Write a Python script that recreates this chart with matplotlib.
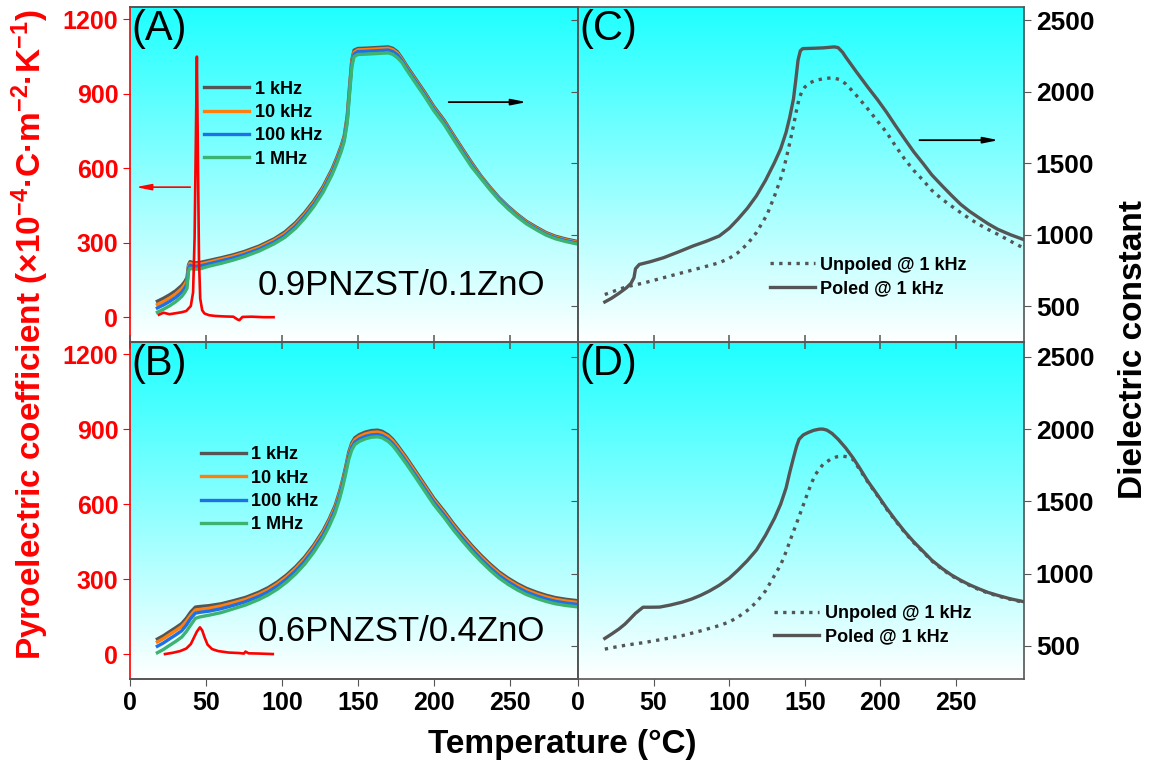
import numpy as np
import matplotlib
matplotlib.use('Agg')
import matplotlib.pyplot as plt
from matplotlib.colors import LinearSegmentedColormap

plt.rcParams['font.family'] = ['Liberation Sans', 'DejaVu Sans']
plt.rcParams['mathtext.default'] = 'regular'

freq_labels = ['1 kHz', '10 kHz', '100 kHz', '1 MHz']
freq_colors = ['#555555', '#ff7f0e', '#1f6fe5', '#3cb371']
pole_labels = ['Unpoled @ 1 kHz', 'Poled @ 1 kHz']
x_ticks = [0, 50, 100, 150, 200, 250]
pyro_ticks = [0, 300, 600, 900, 1200]
eps_ticks = [500, 1000, 1500, 2000, 2500]

# (A) 0.9PNZST/0.1ZnO, dielectric constant at 4 frequencies
T_A = [18, 22, 26, 30, 34, 36, 37.5, 38.5, 39.5, 42, 46, 52, 60, 68, 75, 85, 95, 102, 109, 115,
       121, 127, 133, 136, 139, 141, 143, 144.5, 146, 147.5, 150, 155, 160, 165, 170, 173, 176,
       179, 182, 188, 194, 200, 207, 213, 219, 225, 231, 237, 243, 249, 255, 261, 268, 274, 280,
       287, 295]
eps_A_1k = [535, 556, 580, 608, 645, 672, 700, 790, 812, 803, 806, 820, 839, 860, 882, 921, 972,
            1020, 1085, 1155, 1237, 1335, 1459, 1535, 1620, 1690, 1830, 2030, 2220, 2290, 2302,
            2304, 2307, 2310, 2313, 2303, 2280, 2235, 2184, 2090, 1997, 1897, 1798, 1697, 1599,
            1503, 1412, 1333, 1260, 1198, 1143, 1094, 1050, 1015, 990, 970, 952]
eps_A_10k = [512, 533, 557, 586, 623, 651, 680, 778, 800, 791, 794, 809, 829, 850, 872, 911, 962,
             1008, 1073, 1143, 1225, 1323, 1447, 1523, 1608, 1678, 1815, 2015, 2205, 2275, 2292,
             2294, 2297, 2300, 2303, 2293, 2270, 2226, 2175, 2081, 1988, 1888, 1789, 1688, 1590,
             1494, 1406, 1327, 1254, 1192, 1137, 1088, 1044, 1009, 984, 964, 946]
eps_A_100k = [488, 509, 533, 561, 598, 626, 655, 765, 787, 778, 781, 797, 817, 838, 860, 899, 950,
              995, 1060, 1130, 1212, 1310, 1434, 1510, 1595, 1665, 1800, 2000, 2190, 2262, 2280,
              2282, 2285, 2288, 2291, 2281, 2258, 2217, 2166, 2072, 1979, 1879, 1780, 1679, 1581,
              1485, 1400, 1321, 1248, 1186, 1131, 1082, 1038, 1003, 978, 958, 940]
eps_A_1M = [458, 479, 503, 531, 568, 597, 625, 745, 767, 758, 761, 780, 800, 823, 846, 886, 937,
            982, 1045, 1115, 1197, 1295, 1419, 1495, 1580, 1650, 1780, 1980, 2170, 2245, 2260,
            2262, 2265, 2268, 2271, 2261, 2238, 2205, 2154, 2060, 1967, 1867, 1768, 1667, 1569,
            1473, 1394, 1315, 1242, 1180, 1125, 1076, 1032, 997, 972, 952, 934]
T_pyro_A = [19, 22, 26, 30, 34, 37, 40, 41.5, 42.5, 43.3, 44.0, 44.7, 45.4, 46.2, 47.5, 49, 52,
            56, 62, 68, 71, 72, 74, 80, 88, 94.5]
pyro_A = [10, 18, 12, 16, 20, 25, 45, 100, 320, 700, 1050, 640, 230, 75, 28, 15, 8, 5, 3, 2,
          -10, -12, 1, 2, 0, 0]

# (B) 0.6PNZST/0.4ZnO
T_B = [18, 22, 26, 30, 34, 37, 40, 43, 46, 52, 60, 68, 76, 85, 91, 97, 103, 109, 115, 121, 127,
       131, 135, 138, 140, 142, 144, 146, 148, 151, 155, 159, 163, 166, 170, 173, 176, 182, 188,
       194, 200, 207, 213, 219, 225, 231, 237, 243, 249, 255, 261, 268, 274, 280, 287, 295]
eps_B_1k = [547, 570, 598, 625, 654, 690, 735, 768, 772, 778, 791, 812, 835, 872, 903, 942, 990,
            1047, 1115, 1198, 1295, 1375, 1470, 1570, 1650, 1740, 1840, 1905, 1940, 1962, 1980,
            1990, 1993, 1985, 1960, 1930, 1890, 1803, 1710, 1616, 1522, 1430, 1345, 1268, 1195,
            1128, 1067, 1012, 968, 930, 898, 870, 850, 834, 822, 812]
eps_B_10k = [527, 550, 578, 605, 634, 669, 712, 748, 752, 760, 776, 798, 821, 858, 889, 929, 977,
             1034, 1102, 1185, 1282, 1362, 1457, 1556, 1636, 1725, 1825, 1890, 1926, 1949, 1967,
             1977, 1980, 1972, 1948, 1918, 1878, 1791, 1698, 1604, 1510, 1418, 1333, 1256, 1183,
             1116, 1055, 1000, 956, 918, 886, 858, 838, 822, 810, 800]
eps_B_100k = [497, 520, 548, 575, 604, 642, 690, 726, 732, 740, 757, 780, 805, 843, 874, 913, 961,
              1018, 1086, 1169, 1266, 1346, 1441, 1540, 1620, 1710, 1810, 1875, 1910, 1932, 1950,
              1960, 1963, 1955, 1930, 1900, 1860, 1773, 1681, 1588, 1495, 1403, 1318, 1241, 1168,
              1101, 1040, 986, 942, 904, 872, 844, 824, 808, 796, 786]
eps_B_1M = [452, 475, 503, 530, 560, 598, 645, 690, 700, 712, 730, 756, 782, 821, 853, 892, 940,
            997, 1065, 1148, 1245, 1325, 1420, 1519, 1599, 1690, 1790, 1856, 1893, 1915, 1933,
            1944, 1947, 1940, 1915, 1885, 1845, 1758, 1666, 1572, 1478, 1386, 1301, 1224, 1151,
            1085, 1024, 969, 925, 887, 855, 827, 807, 791, 779, 769]
T_pyro_B = [23, 28, 33, 37, 40, 42, 44, 46, 47.5, 49, 51, 54, 58, 65, 72, 75, 76, 78, 85, 94]
pyro_B = [0, 5, 12, 22, 40, 65, 90, 107, 95, 68, 38, 20, 12, 6, 4, 2, 10, 3, 2, 0]

# (C) poled / unpoled at 1 kHz, 0.9PNZST/0.1ZnO
T_C_poled = [17.7, 22, 27, 32, 35, 37, 38, 40.5, 48, 56.5, 66, 76, 85, 93.4, 100, 105.7, 112, 118,
             124, 130, 134, 137.6, 140, 142.5, 144, 145.5, 147, 148.6, 155, 162, 169.5, 172, 175,
             177, 184, 191.6, 198, 204, 210, 216, 222, 228.5, 234, 240.8, 247, 253, 259, 265,
             271, 277.6, 286, 295]
eps_C_poled = [530, 555, 590, 629, 660, 700, 762, 792, 812, 839, 878, 921, 955, 991, 1045, 1108,
               1185, 1272, 1380, 1506, 1600, 1716, 1820, 1950, 2080, 2220, 2285, 2301, 2303, 2306,
               2313, 2308, 2275, 2243, 2140, 2032, 1945, 1857, 1762, 1670, 1580, 1494, 1418, 1342,
               1275, 1213, 1163, 1120, 1078, 1038, 1000, 965]
T_C_unpoled = [17.7, 25, 32, 44, 56, 68.8, 81, 93.4, 100, 105.7, 112, 118, 125, 130, 135, 137.6,
               140, 142.5, 144.5, 146.2, 148, 150, 153, 157, 163, 168.3, 173, 177, 181, 184, 191.6,
               198, 204, 210, 216, 222, 228.5, 234, 240.8, 247, 253, 259, 265, 271, 277.6, 286,
               295]
eps_C_unpoled = [582, 610, 636, 664, 698, 734, 768, 804, 835, 874, 935, 1015, 1140, 1272, 1420,
                 1529, 1640, 1763, 1870, 1950, 2000, 2032, 2060, 2079, 2092, 2097, 2085, 2055,
                 2010, 1975, 1880, 1795, 1716, 1620, 1529, 1450, 1377, 1310, 1248, 1200, 1155,
                 1112, 1073, 1038, 1003, 955, 905]

# (D) poled / unpoled at 1 kHz, 0.6PNZST/0.4ZnO
T_D_poled = [17.7, 22, 27, 31, 34.4, 38, 43, 48, 54, 61, 68.8, 75, 81, 87, 93.4, 100, 105.7, 112,
             118, 124, 130, 134, 137.6, 140, 142.5, 144.5, 146.2, 149, 152.3, 156, 159.7, 162,
             164.6, 168, 172, 177, 181.8, 186, 191.6, 198, 204, 210, 216, 222, 228.5, 234, 240.8,
             247, 253, 259, 265, 271, 277.6, 286, 295]
eps_D_poled = [551, 580, 616, 650, 686, 725, 767, 767, 768, 782, 802, 823, 849, 880, 919, 968, 1023,
               1090, 1163, 1265, 1384, 1480, 1593, 1700, 1802, 1880, 1930, 1960, 1977, 1992, 2000,
               2000, 1993, 1970, 1930, 1870, 1802, 1735, 1640, 1545, 1454, 1370, 1291, 1220, 1151,
               1092, 1035, 990, 954, 922, 895, 870, 849, 825, 805]
T_D_unpoled = [17.7, 25, 32, 44, 56, 68.8, 81, 93.4, 100, 105.7, 112, 118, 124, 130, 134, 137.6,
               141, 145, 149, 152.3, 155, 157, 160, 162, 167, 171, 174.4, 178, 181.8, 186, 191.6,
               198, 204, 210, 216, 222, 228.5, 234, 240.8, 247, 253, 259, 265, 271, 277.6, 286,
               295]
eps_D_unpoled = [477, 492, 505, 523, 545, 570, 603, 640, 665, 698, 745, 802, 880, 988, 1060, 1151,
                 1250, 1361, 1475, 1570, 1640, 1686, 1728, 1756, 1791, 1808, 1814, 1808, 1791,
                 1725, 1635, 1540, 1448, 1365, 1286, 1215, 1147, 1088, 1030, 985, 950, 918, 890,
                 866, 845, 822, 800]

bg_cmap = LinearSegmentedColormap.from_list('bg', ['#ffffff', '#1effff'])
spine_col = '#555555'
arrow_style = '-|>,head_length=0.9,head_width=0.18'
leg_prop = {'weight': 'bold', 'size': 13}


def add_bg(ax):
    grad = np.linspace(0, 1, 256).reshape(-1, 1)
    ax.imshow(grad, cmap=bg_cmap, extent=[0, 1, 0, 1], transform=ax.transAxes,
              aspect='auto', origin='lower', zorder=0)


def boundary_ticks(ax):
    # ticks crossing the border between the upper and lower panel
    sec = ax.secondary_xaxis('top')
    sec.set_xticks(x_ticks, labels=[])
    sec.tick_params(direction='inout', length=10, width=1.1, color=spine_col)
    sec.spines['top'].set_color(spine_col)


def left_panel(rect, label, comp, comp_y, T_eps, eps_sets, T_pyro, pyro, eps_lim, leg_pos, bottom):
    ax = fig.add_axes(rect)
    ax2 = ax.twinx()
    ax.set_zorder(3)
    ax.patch.set_visible(False)
    ax2.set_zorder(2)
    add_bg(ax2)
    for vals, c, lab in zip(eps_sets, freq_colors, freq_labels):
        ax2.plot(T_eps, vals, color=c, lw=2.4, label=lab, solid_joinstyle='round')
    ax.plot(T_pyro, pyro, color='red', lw=1.9)
    ax.set_xlim(0, 295)
    ax.set_ylim(-100, 1250)
    ax2.set_xlim(0, 295)
    ax2.set_ylim(*eps_lim)
    ax.set_xticks(x_ticks)
    ax.set_yticks(pyro_ticks)
    ax2.set_yticks(eps_ticks)
    ax.tick_params(axis='y', direction='out', length=5, colors='red', labelsize=18)
    for t in ax.get_yticklabels():
        t.set_fontweight('bold')
    ax2.tick_params(axis='y', direction='in', length=5, color=spine_col, labelright=False)
    if bottom:
        ax.tick_params(axis='x', direction='out', length=5, color=spine_col, labelsize=18)
        for t in ax.get_xticklabels():
            t.set_fontweight('bold')
        boundary_ticks(ax)
    else:
        ax.tick_params(axis='x', bottom=False, labelbottom=False)
    for a in (ax, ax2):
        for s in a.spines.values():
            s.set_color(spine_col)
            s.set_linewidth(1.2)
    ax.spines['left'].set_color('red')
    ax2.spines['left'].set_visible(False)
    ax.text(0.004, 0.995, label, transform=ax.transAxes, fontsize=30, va='top', ha='left')
    ax.text(84, comp_y, comp, fontsize=25, va='center', ha='left')
    ax2.legend(loc='upper left', bbox_to_anchor=leg_pos, frameon=False, prop=leg_prop,
               handlelength=2.5, handletextpad=0.3, labelspacing=0.35, borderpad=0,
               borderaxespad=0)
    return ax, ax2


def right_panel(rect, label, T_p, eps_p, T_u, eps_u, eps_lim, leg_pos, bottom):
    ax = fig.add_axes(rect)
    ax.set_zorder(2)
    add_bg(ax)
    ax.plot(T_u, eps_u, color=spine_col, lw=2.4, linestyle=(0, (1, 1.6)), label=pole_labels[0])
    ax.plot(T_p, eps_p, color=spine_col, lw=2.4, label=pole_labels[1], solid_joinstyle='round')
    ax.set_xlim(0, 295)
    ax.set_ylim(*eps_lim)
    ax.set_xticks(x_ticks)
    ax.set_yticks(eps_ticks)
    ax.yaxis.tick_right()
    ax.tick_params(axis='y', direction='out', length=5, color=spine_col, labelsize=19)
    for t in ax.get_yticklabels():
        t.set_fontweight('bold')
    if bottom:
        ax.tick_params(axis='x', direction='out', length=5, color=spine_col, labelsize=18)
        for t in ax.get_xticklabels():
            t.set_fontweight('bold')
        boundary_ticks(ax)
    else:
        ax.tick_params(axis='x', bottom=False, labelbottom=False)
    for s in ax.spines.values():
        s.set_color(spine_col)
        s.set_linewidth(1.2)
    ax.text(0.004, 0.995, label, transform=ax.transAxes, fontsize=30, va='top', ha='left')
    ax.legend(loc='upper left', bbox_to_anchor=leg_pos, frameon=False, prop=leg_prop,
              handlelength=2.5, handletextpad=0.3, labelspacing=0.35, borderpad=0,
              borderaxespad=0)
    return ax


fig = plt.figure(figsize=(11.54, 7.67), dpi=100)

axA, axA2 = left_panel([0.1127, 0.5541, 0.3882, 0.4368], '(A)', '0.9PNZST/0.1ZnO', 128,
                       T_A, [eps_A_1k, eps_A_10k, eps_A_100k, eps_A_1M], T_pyro_A, pyro_A,
                       (250, 2592), (0.165, 0.78), False)
axA.annotate('', xy=(2, 524), xytext=(41.5, 524),
             arrowprops=dict(arrowstyle=arrow_style, color='red', lw=1.2))
axA2.annotate('', xy=(263, 1927), xytext=(208, 1927),
              arrowprops=dict(arrowstyle=arrow_style, color='black', lw=1.3))

axB, axB2 = left_panel([0.1127, 0.1147, 0.3882, 0.4394], '(B)', '0.6PNZST/0.4ZnO', 92,
                       T_B, [eps_B_1k, eps_B_10k, eps_B_100k, eps_B_1M], T_pyro_B, pyro_B,
                       (270, 2603), (0.158, 0.69), True)

axC = right_panel([0.5009, 0.5541, 0.3865, 0.4368], '(C)', T_C_poled, eps_C_poled,
                  T_C_unpoled, eps_C_unpoled, (250, 2592), (0.43, 0.255), False)
axC.annotate('', xy=(280, 1661), xytext=(224, 1661),
             arrowprops=dict(arrowstyle=arrow_style, color='black', lw=1.3))

axD = right_panel([0.5009, 0.1147, 0.3865, 0.4394], '(D)', T_D_poled, eps_D_poled,
                  T_D_unpoled, eps_D_unpoled, (270, 2603), (0.44, 0.22), True)

fig.text(0.487, 0.029, 'Temperature (°C)', fontsize=24, fontweight='bold', ha='center', va='center')
fig.text(0.026, 0.563, 'Pyroelectric coefficient (×10$^{-4}$·C·m$^{-2}$·K$^{-1}$)', fontsize=24,
         fontweight='bold', color='red', rotation=90, ha='center', va='center')
fig.text(0.982, 0.544, 'Dielectric constant', fontsize=24, fontweight='bold', rotation=90,
         ha='center', va='center')

fig.savefig('out.png', dpi=100)
